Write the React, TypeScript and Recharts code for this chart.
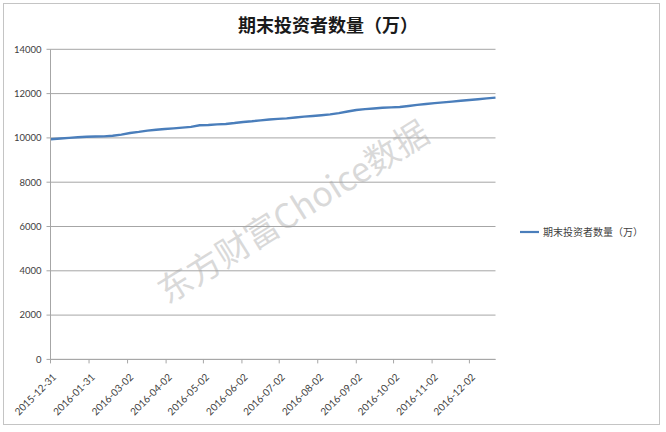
import React from "react";
import { LineChart, Line, XAxis, YAxis, CartesianGrid } from "recharts";

const seriesName = "期末投资者数量（万）";

const dates = [
  "2015-12-31", "2016-01-08", "2016-01-15", "2016-01-22", "2016-01-29", "2016-02-05",
  "2016-02-12", "2016-02-19", "2016-02-26", "2016-03-04", "2016-03-11", "2016-03-18",
  "2016-03-25", "2016-04-01", "2016-04-08", "2016-04-15", "2016-04-22", "2016-04-29",
  "2016-05-06", "2016-05-13", "2016-05-20", "2016-05-27", "2016-06-03", "2016-06-10",
  "2016-06-17", "2016-06-24", "2016-07-01", "2016-07-08", "2016-07-15", "2016-07-22",
  "2016-07-29", "2016-08-05", "2016-08-12", "2016-08-19", "2016-08-26", "2016-09-02",
  "2016-09-09", "2016-09-16", "2016-09-23", "2016-09-30", "2016-10-07", "2016-10-14",
  "2016-10-21", "2016-10-28", "2016-11-04", "2016-11-11", "2016-11-18", "2016-11-25",
  "2016-12-02", "2016-12-09", "2016-12-16", "2016-12-23",
];

const investors = [
  9940, 9975, 10000, 10030, 10050, 10060, 10070, 10095, 10150, 10220, 10270, 10330,
  10370, 10400, 10430, 10465, 10500, 10570, 10585, 10610, 10630, 10670, 10720, 10750,
  10790, 10830, 10860, 10880, 10920, 10960, 10990, 11025, 11060, 11120, 11190, 11260,
  11300, 11330, 11360, 11380, 11395, 11440, 11490, 11530, 11570, 11605, 11640, 11675,
  11710, 11745, 11785, 11820,
];

const tickLabels = [
  "2015-12-31", "2016-01-31", "2016-03-02", "2016-04-02", "2016-05-02", "2016-06-02",
  "2016-07-02", "2016-08-02", "2016-09-02", "2016-10-02", "2016-11-02", "2016-12-02",
];

const yTicks = [0, 2000, 4000, 6000, 8000, 10000, 12000, 14000];

const BASE = Date.UTC(2015, 11, 31);
const toDay = (s: string) => {
  const [y, m, d] = s.split("-").map(Number);
  return Math.round((Date.UTC(y, m - 1, d) - BASE) / 86400000);
};

const data = dates.map((d, i) => ({ day: toDay(d), value: investors[i] }));
const tickDays = tickLabels.map(toDay);
const lastDay = toDay(dates[dates.length - 1]);
const labelByDay: Record<number, string> = {};
tickDays.forEach((d, i) => (labelByDay[d] = tickLabels[i]));

const FONT = "Lato, 'Noto Sans CJK SC', sans-serif";
const TEXT = "#404040";

const XTick = (props: any) => {
  const { x, y, payload } = props;
  return (
    <g transform={`translate(${x + 4},${y + 10}) rotate(-45)`}>
      <text x={0} y={0} dy="0.35em" textAnchor="end" fill={TEXT} fontSize={10} fontFamily={FONT}>
        {labelByDay[payload.value]}
      </text>
    </g>
  );
};

export default function App() {
  return (
    <div style={{ position: "absolute", left: 0, top: 0, width: 666, height: 432, background: "#fff", overflow: "hidden" }}>
      <div
        style={{
          position: "absolute", left: 3, top: 3, width: 657, height: 422,
          border: "1px solid #c4c4c4", boxSizing: "border-box",
        }}
      />
      <div
        style={{
          position: "absolute", left: 0, top: 11, width: 656, textAlign: "center",
          fontFamily: "'Noto Sans CJK SC', sans-serif", fontWeight: 700, fontSize: 18, color: "#1a1a1a",
          lineHeight: "26px",
        }}
      >
        {seriesName}
      </div>
      <div
        style={{
          position: "absolute", left: 292, top: 210, transform: "translate(-50%,-50%) rotate(-32deg)",
          fontFamily: "'Noto Sans CJK SC', sans-serif", fontSize: 34, color: "rgba(180,180,180,0.5)",
          whiteSpace: "nowrap", pointerEvents: "none",
        }}
      >
        东方财富Choice数据
      </div>
      <div
        style={{
          position: "absolute", left: 519, top: 224, display: "flex", alignItems: "center",
          fontFamily: FONT, fontSize: 10, color: TEXT, whiteSpace: "nowrap",
        }}
      >
        <svg width={22} height={6}>
          <line x1={1} y1={3} x2={20} y2={3} stroke="#4a7ebb" strokeWidth={2.2} />
        </svg>
        <span style={{ marginLeft: 2 }}>{seriesName}</span>
      </div>
      <div style={{ position: "absolute", left: 0, top: 0 }}>
        <LineChart
          width={666}
          height={432}
          data={data}
          margin={{ top: 49.3, right: 170.5, bottom: 12.6, left: 0.5 }}
        >
          <CartesianGrid vertical={false} stroke="#a6a6a6" strokeWidth={1} />
          <XAxis
            type="number"
            dataKey="day"
            domain={[0, lastDay]}
            ticks={tickDays}
            interval={0}
            height={60}
            tick={<XTick />}
            tickSize={4}
            stroke="#a6a6a6"
            allowDecimals={false}
          />
          <YAxis
            width={50}
            domain={[0, 14000]}
            ticks={yTicks}
            interval={0}
            tickSize={4}
            tickMargin={5}
            stroke="#a6a6a6"
            tick={{ fill: TEXT, fontSize: 9.5, fontFamily: FONT }}
          />
          <Line
            type="linear"
            dataKey="value"
            name={seriesName}
            stroke="#4a7ebb"
            strokeWidth={2.4}
            dot={false}
            isAnimationActive={false}
          />
        </LineChart>
      </div>
    </div>
  );
}
